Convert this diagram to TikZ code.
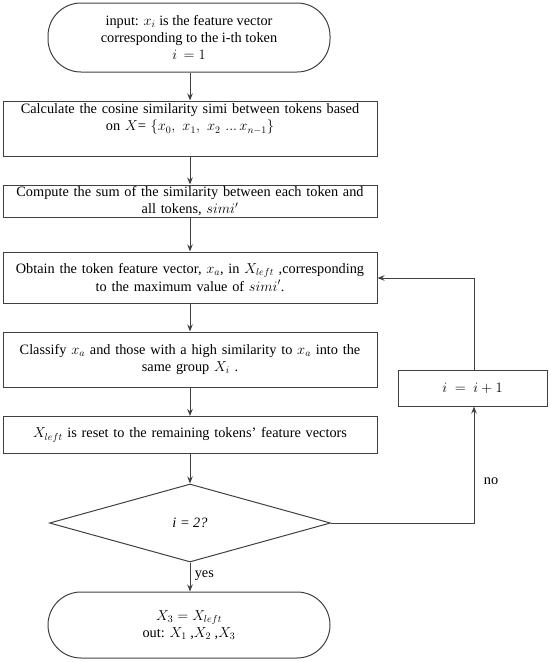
\documentclass[tikz,border=0pt]{standalone}
\usepackage{fontspec}
\setmainfont{Liberation Serif}
\usetikzlibrary{shapes.geometric,arrows.meta}
\begin{document}
\begin{tikzpicture}[x=1pt,y=-1pt,
  every node/.style={font=\fontsize{14.3}{17.3}\selectfont, text=black},
  ln/.style={draw=black!75, line width=1pt},
  arr/.style={ln, -{Stealth[length=7pt,width=5.5pt]}},
  boxs/.style={ln, rectangle, minimum width=374pt, text width=370pt, align=center, inner sep=0pt},
  term/.style={ln, rectangle, rounded corners=33pt, minimum width=282pt, align=center, inner sep=0pt},
  dia/.style={ln, diamond, minimum width=281pt, minimum height=78pt, inner sep=0pt}]
\useasboundingbox (0,0) rectangle (550,662);
\node[term, minimum height=69pt] (start) at (189,37.5) {input: $x_i$ is the feature vector\\corresponding to the i-th token\\$i\,=1$};
\node[boxs, minimum height=55pt] (b1) at (190,128.5) {Calculate the cosine similarity simi between tokens based\\on $X$= $\{x_0,\ x_1,\ x_2\ ...\,x_{n-1}\}$\\\strut};
\node[boxs, minimum height=32pt] (b2) at (190,201) {Compute the sum of the similarity between each token and\\all tokens, $simi'$};
\node[boxs, minimum height=51pt] (b3) at (190,277.5) {Obtain the token feature vector, $x_a$, in $X_{left}$ ,corresponding\\to the maximum value of $simi'$.};
\node[boxs, minimum height=55pt] (b4) at (190,359.5) {Classify $x_a$ and those with a high similarity to $x_a$ into the\\same group $X_i$ .};
\node[boxs, minimum height=37pt] (b5) at (190,435) {$X_{left}$ is reset to the remaining tokens' feature vectors};
\node[dia] (d) at (190,523) {\textit{i = 2?}};
\node[term, minimum height=66pt] (end) at (189,625) {$X_3=X_{left}$\\out: $X_1$ ,$X_2$ ,$X_3$};
\node[ln, rectangle, minimum width=149pt, minimum height=36pt, inner sep=0pt] (inc) at (472.5,388) {$i\ =\ i+1$};
\coordinate (c1) at (474,523);
\coordinate (c2) at (474,278);
\draw[arr] (start.south -| b1.north) -- (b1.north);
\draw[arr] (b1) -- (b2);
\draw[arr] (b2) -- (b3);
\draw[arr] (b3) -- (b4);
\draw[arr] (b4) -- (b5);
\draw[arr] (b5) -- (d);
\draw[arr] (d.south) -- (d.south |- end.north) node[midway, right, xshift=1pt, yshift=1pt] {yes};
\draw[arr] (d.east) -- (c1) -- (inc.south -| c1);
\node at (491,481) {no};
\draw[arr] (inc.north -| c2) -- (c2) -- (b3.east |- c2);
\end{tikzpicture}
\end{document}
